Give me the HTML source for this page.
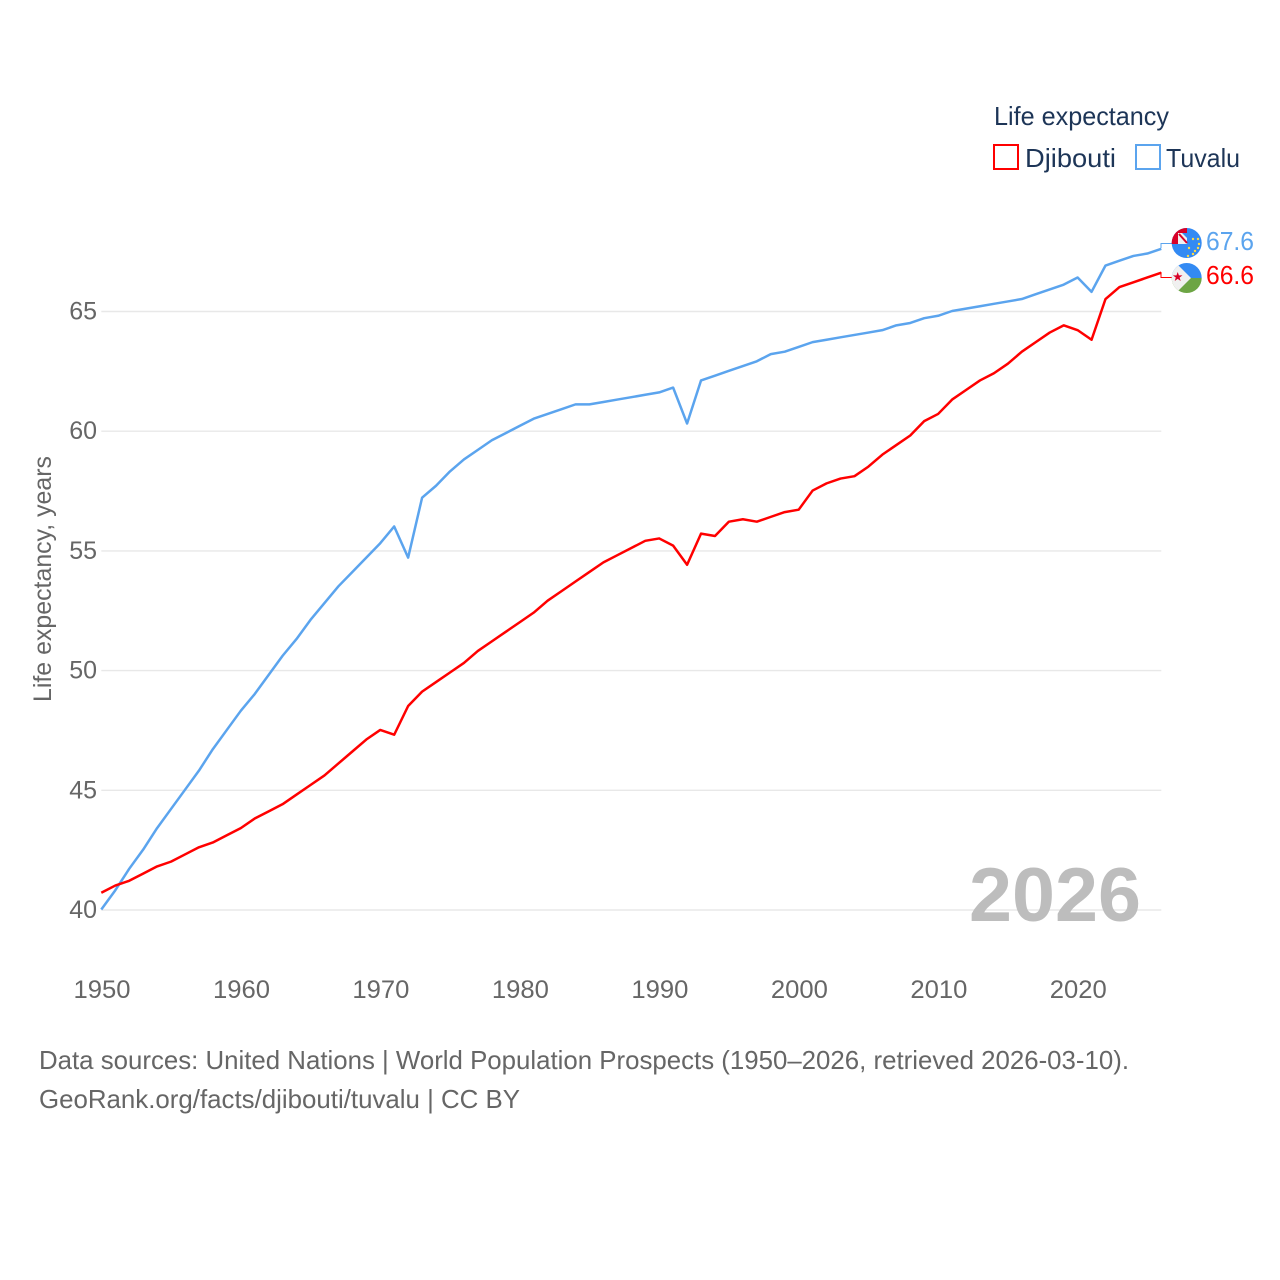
<!DOCTYPE html>
<html lang="en">
<head>
<meta charset="utf-8">
<title>Life expectancy: Djibouti and Tuvalu</title>
<style>
html,body{margin:0;padding:0;background:#fff;}
svg{display:block;}
text{font-family:"Liberation Sans",sans-serif;}
</style>
</head>
<body>
<svg id="chart" xmlns="http://www.w3.org/2000/svg" width="1280" height="1280" viewBox="0 0 1280 1280">
  <rect width="1280" height="1280" fill="#fff"/>
  <g id="grid"></g>
  <g id="y-ticks"></g>
  <g id="x-ticks"></g>
  <text transform="translate(51,702) rotate(-90)" font-size="25" fill="#666" textLength="246" lengthAdjust="spacingAndGlyphs">Life expectancy, years</text>
  <text x="969" y="921" font-size="76" font-weight="700" fill="#bdbdbd" textLength="172" lengthAdjust="spacingAndGlyphs">2026</text>
  <g id="series"></g>

  <g>
    <text x="994" y="125" font-size="26" fill="#1d3557" textLength="175" lengthAdjust="spacingAndGlyphs">Life expectancy</text>
    <rect x="994" y="145" width="24" height="24" fill="none" stroke="#ff0000" stroke-width="2"/>
    <text x="1025" y="167" font-size="26" fill="#1d3557" textLength="91" lengthAdjust="spacingAndGlyphs">Djibouti</text>
    <rect x="1136" y="145" width="24" height="24" fill="none" stroke="#5ba4ee" stroke-width="2"/>
    <text x="1166" y="167" font-size="26" fill="#1d3557" textLength="74" lengthAdjust="spacingAndGlyphs">Tuvalu</text>
  </g>

  <path d="M1161 248V243.5H1172" fill="none" stroke="#5ba4ee" stroke-width="1"/>
  <path d="M1161 272V277.5H1172" fill="none" stroke="#ff0000" stroke-width="1"/>

  <defs>
    <clipPath id="clip-tv"><circle cx="1186.7" cy="243" r="15"/></clipPath>
    <clipPath id="clip-dj"><circle cx="1186.7" cy="278" r="15"/></clipPath>
  </defs>
  <g clip-path="url(#clip-tv)">
    <rect x="1171" y="228" width="31" height="31" fill="#338af3"/>
    <rect x="1171" y="228" width="16" height="16" fill="#d80027"/>
    <rect x="1178" y="233" width="9" height="11" fill="#f0f0f0"/>
    <path d="M1179 234L1187 243" stroke="#d80027" stroke-width="2"/>
    <path d="M1182 233H1187V238Z" fill="#338af3"/>
    <g fill="#ffda44">
      <circle cx="1198" cy="239" r="1.2"/><circle cx="1193" cy="239" r="1.2"/><circle cx="1199" cy="244" r="1.2"/>
      <circle cx="1189" cy="248" r="1.2"/><circle cx="1198" cy="248" r="1.2"/><circle cx="1195" cy="251" r="1.2"/>
      <circle cx="1188" cy="256" r="1.2"/><circle cx="1193" cy="254" r="1.2"/>
    </g>
  </g>
  <g clip-path="url(#clip-dj)">
    <rect x="1171" y="263" width="32" height="15" fill="#338af3"/>
    <rect x="1171" y="278" width="32" height="15" fill="#6da544"/>
    <path d="M1171 263L1176 263L1191 278L1176 293L1171 293Z" fill="#f0f0f0"/>
    <path d="M1177.7 272l1.2 3.4h3.6l-2.9 2.1 1.1 3.5-3-2.1-3 2.1 1.1-3.5-2.9-2.1h3.6z" fill="#d80027"/>
  </g>

  <text x="1206" y="250" font-size="26" fill="#5ba4ee" textLength="48" lengthAdjust="spacingAndGlyphs">67.6</text>
  <text x="1206" y="284" font-size="26" fill="#ff0000" textLength="48" lengthAdjust="spacingAndGlyphs">66.6</text>

  <text x="39" y="1069" font-size="26" fill="#666" textLength="1090" lengthAdjust="spacingAndGlyphs">Data sources: United Nations | World Population Prospects (1950–2026, retrieved 2026-03-10).</text>
  <text x="39" y="1108" font-size="26" fill="#666" textLength="481" lengthAdjust="spacingAndGlyphs">GeoRank.org/facts/djibouti/tuvalu | CC BY</text>
</svg>

<script>
const years = [1950,1951,1952,1953,1954,1955,1956,1957,1958,1959,1960,1961,1962,1963,1964,1965,1966,1967,1968,1969,1970,1971,1972,1973,1974,1975,1976,1977,1978,1979,1980,1981,1982,1983,1984,1985,1986,1987,1988,1989,1990,1991,1992,1993,1994,1995,1996,1997,1998,1999,2000,2001,2002,2003,2004,2005,2006,2007,2008,2009,2010,2011,2012,2013,2014,2015,2016,2017,2018,2019,2020,2021,2022,2023,2024,2025,2026];
const djibouti = [40.7,41.0,41.2,41.5,41.8,42.0,42.3,42.6,42.8,43.1,43.4,43.8,44.1,44.4,44.8,45.2,45.6,46.1,46.6,47.1,47.5,47.3,48.5,49.1,49.5,49.9,50.3,50.8,51.2,51.6,52.0,52.4,52.9,53.3,53.7,54.1,54.5,54.8,55.1,55.4,55.5,55.2,54.4,55.7,55.6,56.2,56.3,56.2,56.4,56.6,56.7,57.5,57.8,58.0,58.1,58.5,59.0,59.4,59.8,60.4,60.7,61.3,61.7,62.1,62.4,62.8,63.3,63.7,64.1,64.4,64.2,63.8,65.5,66.0,66.2,66.4,66.6];
const tuvalu = [40.0,40.8,41.7,42.5,43.4,44.2,45.0,45.8,46.7,47.5,48.3,49.0,49.8,50.6,51.3,52.1,52.8,53.5,54.1,54.7,55.3,56.0,54.7,57.2,57.7,58.3,58.8,59.2,59.6,59.9,60.2,60.5,60.7,60.9,61.1,61.1,61.2,61.3,61.4,61.5,61.6,61.8,60.3,62.1,62.3,62.5,62.7,62.9,63.2,63.3,63.5,63.7,63.8,63.9,64.0,64.1,64.2,64.4,64.5,64.7,64.8,65.0,65.1,65.2,65.3,65.4,65.5,65.7,65.9,66.1,66.4,65.8,66.9,67.1,67.3,67.4,67.6];
const yTickValues = [40,45,50,55,60,65];
const xTickValues = [1950,1960,1970,1980,1990,2000,2010,2020];

const NS = 'http://www.w3.org/2000/svg';
function xScale(year){ return 101.3 + (year - 1950) * (1161.3 - 101.3) / (2026 - 1950); }
function yScale(value){ return 909.5 - (value - 40) * (909.5 - 311) / (65 - 40); }

const gridGroup = document.getElementById('grid');
const yGroup = document.getElementById('y-ticks');
const xGroup = document.getElementById('x-ticks');
const seriesGroup = document.getElementById('series');

yTickValues.forEach(function(v){
  const line = document.createElementNS(NS,'line');
  
  
  line.setAttribute('x1', xScale(1950));
  line.setAttribute('x2', xScale(2026));
  line.setAttribute('y1', yScale(v) + 0.5);
  line.setAttribute('y2', yScale(v) + 0.5);
  line.setAttribute('stroke', '#e8e8e8');
  line.setAttribute('stroke-width', '1.4');
  gridGroup.appendChild(line);

  const label = document.createElementNS(NS,'text');
  
  
  label.setAttribute('x', 97);
  label.setAttribute('y', yScale(v) + 8.5);
  label.setAttribute('text-anchor', 'end');
  label.setAttribute('font-size', '25');
  label.setAttribute('fill', '#666');
  label.textContent = v;
  yGroup.appendChild(label);
});

xTickValues.forEach(function(y){
  const label = document.createElementNS(NS,'text');
  
  
  label.setAttribute('x', xScale(y) + 0.7);
  label.setAttribute('y', 998);
  label.setAttribute('text-anchor', 'middle');
  label.setAttribute('font-size', '25');
  label.setAttribute('fill', '#666');
  label.setAttribute('textLength', '57');
  label.setAttribute('lengthAdjust', 'spacingAndGlyphs');
  label.textContent = y;
  xGroup.appendChild(label);
});

function buildPath(values){
  return values.map(function(v,i){
    return (i === 0 ? 'M' : 'L') + xScale(years[i]).toFixed(2) + ' ' + yScale(v).toFixed(2);
  }).join('');
}

const tuvaluLine = document.createElementNS(NS,'path');


tuvaluLine.setAttribute('d', buildPath(tuvalu));
tuvaluLine.setAttribute('fill', 'none');
tuvaluLine.setAttribute('stroke', '#5ba4ee');
tuvaluLine.setAttribute('stroke-width', '2.5');
tuvaluLine.setAttribute('stroke-linejoin', 'round');
seriesGroup.appendChild(tuvaluLine);

const djiboutiLine = document.createElementNS(NS,'path');


djiboutiLine.setAttribute('d', buildPath(djibouti));
djiboutiLine.setAttribute('fill', 'none');
djiboutiLine.setAttribute('stroke', '#ff0000');
djiboutiLine.setAttribute('stroke-width', '2.5');
djiboutiLine.setAttribute('stroke-linejoin', 'round');
seriesGroup.appendChild(djiboutiLine);
</script>
</body>
</html>
